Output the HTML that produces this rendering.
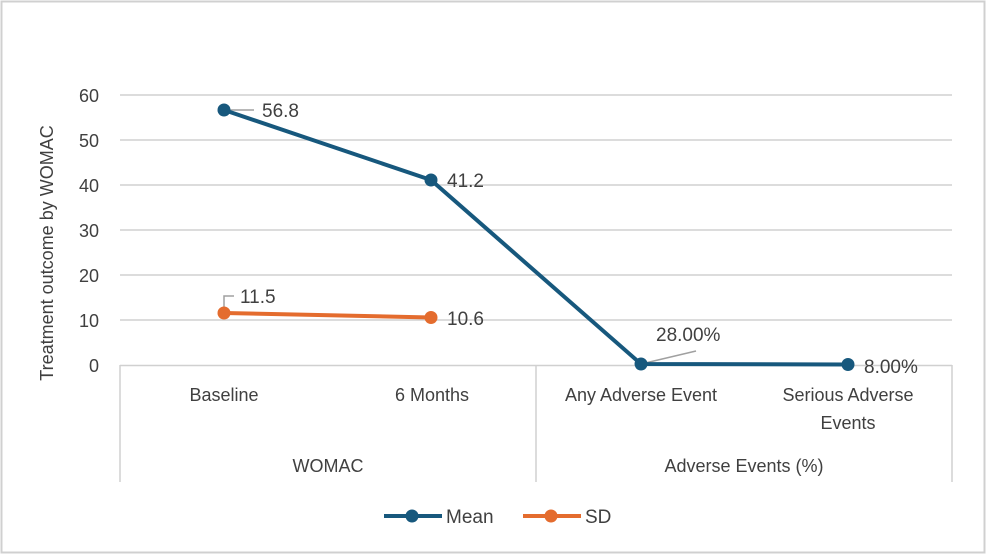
<!DOCTYPE html>
<html><head><style>
body{margin:0;background:#fff}
svg text{font-family:"Liberation Sans",sans-serif;fill:#404040}
</style></head><body>
<svg width="986" height="555" xmlns="http://www.w3.org/2000/svg">
<rect x="1.5" y="1.5" width="983" height="551" fill="#fff" stroke="#d0d0d0" stroke-width="2"/>
<g stroke="#d0d0d0" stroke-width="1.5">
<line x1="120" y1="95" x2="952" y2="95"/>
<line x1="120" y1="140" x2="952" y2="140"/>
<line x1="120" y1="185" x2="952" y2="185"/>
<line x1="120" y1="230" x2="952" y2="230"/>
<line x1="120" y1="275" x2="952" y2="275"/>
<line x1="120" y1="320" x2="952" y2="320"/>
<line x1="120" y1="365.5" x2="952" y2="365.5"/>
<line x1="120" y1="365" x2="120" y2="482"/>
<line x1="536" y1="365" x2="536" y2="482"/>
<line x1="952" y1="365" x2="952" y2="482"/>
</g>
<g font-size="18" text-anchor="end">
<text x="99" y="102">60</text><text x="99" y="147">50</text><text x="99" y="192">40</text>
<text x="99" y="237">30</text><text x="99" y="282">20</text><text x="99" y="327">10</text><text x="99" y="372">0</text>
</g>
<text transform="translate(53,253) rotate(-90)" font-size="18" text-anchor="middle">Treatment outcome by WOMAC</text>
<g font-size="18" text-anchor="middle">
<text x="224" y="401">Baseline</text>
<text x="432" y="401">6 Months</text>
<text x="641" y="401">Any Adverse Event</text>
<text x="848" y="401">Serious Adverse</text>
<text x="848" y="429">Events</text>
<text x="328" y="472">WOMAC</text>
<text x="744" y="472">Adverse Events (%)</text>
</g>
<g stroke="#a0a0a0" stroke-width="1.5" fill="none">
<polyline points="224,110 254,110"/>
<polyline points="224,313 224,296 234,296"/>
<line x1="641" y1="364" x2="696" y2="351"/>
</g>
<polyline points="224,110 431,180 641,364 848,364.5" fill="none" stroke="#17587d" stroke-width="4"/>
<polyline points="224,313 431,317.5" fill="none" stroke="#e46c2e" stroke-width="4"/>
<g fill="#17587d"><circle cx="224" cy="110" r="6.5"/><circle cx="431" cy="180" r="6.5"/><circle cx="641" cy="364" r="6.5"/><circle cx="848" cy="364.5" r="6.5"/></g>
<g fill="#e46c2e"><circle cx="224" cy="313" r="6.5"/><circle cx="431" cy="317.5" r="6.5"/></g>
<g font-size="19">
<text x="262" y="117">56.8</text>
<text x="447" y="187">41.2</text>
<text x="240" y="303">11.5</text>
<text x="447" y="325">10.6</text>
<text x="656" y="341">28.00%</text>
<text x="864" y="373">8.00%</text>
</g>
<line x1="384" y1="516" x2="442" y2="516" stroke="#17587d" stroke-width="4"/>
<circle cx="412" cy="516" r="6.5" fill="#17587d"/>
<text x="446" y="523" font-size="19">Mean</text>
<line x1="523" y1="516" x2="581" y2="516" stroke="#e46c2e" stroke-width="4"/>
<circle cx="551" cy="516" r="6.5" fill="#e46c2e"/>
<text x="585" y="523" font-size="19">SD</text>
</svg>
</body></html>
